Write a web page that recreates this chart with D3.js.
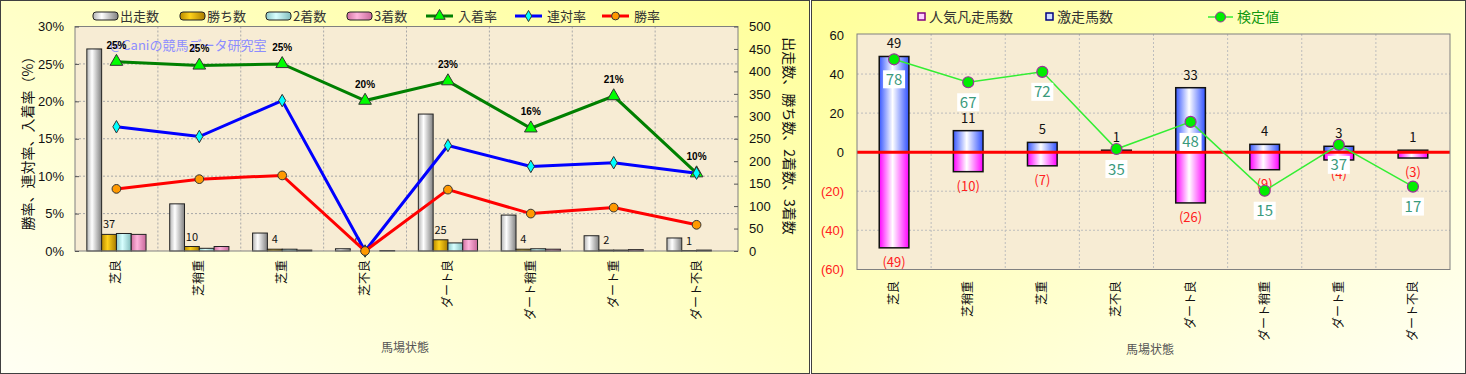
<!DOCTYPE html>
<html>
<head>
<meta charset="utf-8">
<script src="https://cdn.jsdelivr.net/npm/d3@7"></script>
<style>
  body { margin: 0; background: #fff; }
  svg { display: block; font-family: "Noto Sans CJK JP", sans-serif; }
</style>
</head>
<body>
<svg id="chart" width="1466" height="374"></svg>
<script>
// Data
const conditions = ["芝良", "芝稍重", "芝重", "芝不良", "ダート良", "ダート稍重", "ダート重", "ダート不良"];

// left chart (counts, right axis)
const runs = [450, 105, 40, 5, 305, 80, 34, 29];
const wins = [37, 10, 4, 0, 25, 4, 2, 1];
const seconds = [39, 6, 4, 0, 18, 5, 2, 2];
const thirds = [37, 10, 2, 1, 26, 4, 3, 0];
// left chart (rates %, left axis)
const placeRate = [25.3, 24.8, 25.0, 20.1, 22.7, 16.4, 20.7, 10.4];
const quinellaRate = [16.6, 15.3, 20.1, 0, 14.1, 11.3, 11.8, 10.4];
const winRate = [8.3, 9.6, 10.1, 0, 8.2, 5.0, 5.8, 3.5];
const placeLabels = ["25%", "25%", "25%", "20%", "23%", "16%", "21%", "10%"];

// right chart
const upsetCounts = [49, 11, 5, 1, 33, 4, 3, 1];   // 激走馬数
const flopCounts = [49, 10, 7, 0, 26, 9, 4, 3];    // 人気凡走馬数
const testValues = [78, 67, 72, 35, 48, 15, 37, 17]; // 検定値

const svg = d3.select("#chart");
const defs = svg.append("defs");

function hGradient(id, edgeL, mid, edgeR, midAt) {
  const g = defs.append("linearGradient").attr("id", id)
    .attr("x1", 0).attr("y1", 0).attr("x2", 1).attr("y2", 0);
  g.append("stop").attr("offset", 0).attr("stop-color", edgeL);
  g.append("stop").attr("offset", midAt || 0.4).attr("stop-color", mid);
  g.append("stop").attr("offset", 1).attr("stop-color", edgeR);
}
hGradient("g-runs", "#b4b4b4", "#ffffff", "#808080", 0.35);
hGradient("g-wins", "#b88a00", "#ffd21a", "#a87c00");
hGradient("g-second", "#8cc8c8", "#d8ffff", "#80bcbc");
hGradient("g-third", "#d070a0", "#ffb4dc", "#c8689a");
hGradient("g-blue", "#3858ff", "#ffffff", "#3050ff", 0.45);
hGradient("g-pink", "#ff00ff", "#ffffff", "#ff00ff", 0.45);

const bgL = defs.append("linearGradient").attr("id", "bg-left")
  .attr("x1", 0).attr("y1", 1).attr("x2", 1).attr("y2", 0);
bgL.append("stop").attr("offset", 0).attr("stop-color", "#fffff4");
bgL.append("stop").attr("offset", 1).attr("stop-color", "#ffff99");
const bgR = defs.append("linearGradient").attr("id", "bg-right")
  .attr("x1", 0).attr("y1", 0).attr("x2", 1).attr("y2", 1);
bgR.append("stop").attr("offset", 0).attr("stop-color", "#ffff99");
bgR.append("stop").attr("offset", 1).attr("stop-color", "#fffff4");

// Panels
svg.append("rect").attr("x", 0.5).attr("y", 0.5).attr("width", 809).attr("height", 373)
  .attr("fill", "url(#bg-left)").attr("stroke", "#404040");
svg.append("rect").attr("x", 811.5).attr("y", 0.5).attr("width", 654).attr("height", 373)
  .attr("fill", "url(#bg-right)").attr("stroke", "#404040");

// ---------- Left chart ----------
const L = { left: 75, right: 738, top: 26.5, bottom: 251 };
const xL = d3.scaleBand().domain(conditions).range([L.left, L.right]);
const xSub = d3.scaleBand().domain(["runs", "wins", "seconds", "thirds"])
  .range([0, xL.bandwidth()]).paddingOuter(0.8);
const yPct = d3.scaleLinear().domain([0, 30]).range([L.bottom, L.top]);
const yCnt = d3.scaleLinear().domain([0, 500]).range([L.bottom, L.top]);

const gl = svg.append("g");
gl.append("rect").attr("x", L.left).attr("y", L.top)
  .attr("width", L.right - L.left).attr("height", L.bottom - L.top)
  .attr("fill", "#f7ecd4");

// grid
gl.selectAll(".hgrid").data(yPct.ticks(6).filter((d) => d > 0 && d < 30)).join("line")
  .attr("x1", L.left).attr("x2", L.right)
  .attr("y1", (d) => yPct(d)).attr("y2", (d) => yPct(d))
  .attr("stroke", "#a8a8a8").attr("stroke-dasharray", "2,2");
gl.selectAll(".vgrid").data(conditions.slice(1)).join("line")
  .attr("x1", (d) => xL(d)).attr("x2", (d) => xL(d))
  .attr("y1", L.top).attr("y2", L.bottom)
  .attr("stroke", "#a8a8a8").attr("stroke-dasharray", "2,2");

// bars
const barSeries = [
  { key: "runs", values: runs, fill: "url(#g-runs)" },
  { key: "wins", values: wins, fill: "url(#g-wins)" },
  { key: "seconds", values: seconds, fill: "url(#g-second)" },
  { key: "thirds", values: thirds, fill: "url(#g-third)" },
];
barSeries.forEach((s) => {
  gl.append("g").selectAll("rect").data(s.values).join("rect")
    .attr("x", (d, i) => xL(conditions[i]) + xSub(s.key))
    .attr("y", (d) => yCnt(d))
    .attr("width", xSub.bandwidth())
    .attr("height", (d) => L.bottom - yCnt(d))
    .attr("fill", s.fill)
    .attr("stroke", "#222").attr("stroke-width", 1);
});
// win count labels
gl.append("g").selectAll("text").data(wins).join("text")
  .attr("x", (d, i) => xL(conditions[i]) + xSub("wins") + xSub.bandwidth() / 2)
  .attr("y", (d) => yCnt(d) - 6)
  .attr("text-anchor", "middle").attr("font-size", 11).attr("fill", "#111")
  .text((d) => d);

// plot border
gl.append("rect").attr("x", L.left).attr("y", L.top)
  .attr("width", L.right - L.left).attr("height", L.bottom - L.top)
  .attr("fill", "none").attr("stroke", "#808080");

// watermark
gl.append("text").attr("x", 110).attr("y", 50)
  .attr("font-size", 13).attr("fill", "#8c8cff")
  .text("@Caniの競馬データ研究室");

// lines
const cx = (i) => xL(conditions[i]) + xL.bandwidth() / 2;
const lineSeries = [
  { name: "入着率", values: placeRate, color: "#008000", marker: d3.symbolTriangle, size: 70, mfill: "#00ff00" },
  { name: "連対率", values: quinellaRate, color: "#0000ff", marker: d3.symbolDiamond, size: 45, mfill: "#00ffff" },
  { name: "勝率", values: winRate, color: "#ff0000", marker: d3.symbolCircle, size: 60, mfill: "#ff9900" },
];
const lineL = d3.line().x((d, i) => cx(i)).y((d) => yPct(d));
lineSeries.forEach((s) => {
  gl.append("path").datum(s.values)
    .attr("d", lineL).attr("fill", "none")
    .attr("stroke", s.color).attr("stroke-width", 3);
});
lineSeries.forEach((s) => {
  gl.append("g").selectAll("path").data(s.values).join("path")
    .attr("transform", (d, i) => `translate(${cx(i)},${yPct(d)})`)
    .attr("d", d3.symbol().type(s.marker).size(s.size))
    .attr("fill", s.mfill).attr("stroke", "#333").attr("stroke-width", 1);
});
gl.append("g").selectAll("text").data(placeRate).join("text")
  .attr("x", (d, i) => cx(i))
  .attr("y", (d) => yPct(d) - 13)
  .attr("text-anchor", "middle").attr("font-size", 10).attr("font-weight", "bold")
  .attr("font-family", "Liberation Sans, Arial, sans-serif")
  .text((d, i) => placeLabels[i]);

// axes
const axL = gl.append("g").attr("transform", `translate(${L.left},0)`)
  .call(d3.axisLeft(yPct).ticks(6).tickFormat((d) => d + "%").tickSize(-4).tickPadding(11));
const axR = gl.append("g").attr("transform", `translate(${L.right},0)`)
  .call(d3.axisRight(yCnt).ticks(10).tickSize(-4).tickPadding(11));
[axL, axR].forEach((a) => {
  a.select(".domain").remove();
  a.selectAll("line").attr("stroke", "#555");
  a.selectAll("text").attr("font-size", 13).attr("fill", "#111")
    .attr("font-family", "Liberation Sans, Arial, sans-serif");
});

// x labels (vertical)
gl.append("g").selectAll("text").data(conditions).join("text")
  .attr("transform", (d) => `translate(${xL(d) + xL.bandwidth() / 2 + 4},260) rotate(-90)`)
  .attr("text-anchor", "end").attr("font-size", 12).attr("fill", "#111")
  .text((d) => d);
gl.append("text").attr("x", 405).attr("y", 352).attr("text-anchor", "middle")
  .attr("font-size", 12).attr("fill", "#555").text("馬場状態");

// axis titles
gl.append("text").attr("transform", "translate(33,140) rotate(-90)")
  .attr("text-anchor", "middle").attr("font-size", 14).attr("fill", "#111")
  .text("勝率、連対率、入着率（%）");
gl.append("text").attr("transform", "translate(784,136) rotate(90)")
  .attr("text-anchor", "middle").attr("font-size", 14).attr("fill", "#111")
  .text("出走数、勝ち数、2着数、3着数");

// left legend
const legL = gl.append("g").attr("font-size", 13).attr("fill", "#333");
[
  { x: 93, label: "出走数", fill: "url(#g-runs)" },
  { x: 180, label: "勝ち数", fill: "url(#g-wins)" },
  { x: 266, label: "2着数", fill: "url(#g-second)" },
  { x: 347, label: "3着数", fill: "url(#g-third)" },
].forEach((d) => {
  legL.append("rect").attr("x", d.x).attr("y", 12).attr("width", 25).attr("height", 8)
    .attr("rx", 3).attr("fill", d.fill).attr("stroke", "#222");
  legL.append("text").attr("x", d.x + 27).attr("y", 21).text(d.label);
});
[426, 515, 602].forEach((x, k) => {
  const s = lineSeries[k];
  legL.append("line").attr("x1", x).attr("x2", x + 27).attr("y1", 16).attr("y2", 16)
    .attr("stroke", s.color).attr("stroke-width", 3);
  legL.append("path").attr("transform", `translate(${x + 13.5},16)`)
    .attr("d", d3.symbol().type(s.marker).size(s.size * 0.8))
    .attr("fill", s.mfill).attr("stroke", "#333");
  legL.append("text").attr("x", x + 32).attr("y", 21).text(s.name);
});

// ---------- Right chart ----------
const R = { left: 857, right: 1450, top: 34, bottom: 269.5 };
const xR = d3.scaleBand().domain(conditions).range([R.left, R.right]);
const yR = d3.scaleLinear().domain([-60, 60]).range([269.3, 35]);
const yTest = d3.scaleLinear().domain([-22.65, 89.65]).range([269.3, 35]);
const barW = xR.bandwidth() * 0.4;
const rcx = (i) => xR(conditions[i]) + xR.bandwidth() / 2;

const gr = svg.append("g");
gr.append("rect").attr("x", R.left).attr("y", R.top)
  .attr("width", R.right - R.left).attr("height", R.bottom - R.top)
  .attr("fill", "#f7ecd4");
gr.selectAll(".hgrid").data(yR.ticks(6).filter((d) => d !== 0 && d > -60 && d < 60)).join("line")
  .attr("x1", R.left).attr("x2", R.right)
  .attr("y1", (d) => yR(d)).attr("y2", (d) => yR(d))
  .attr("stroke", "#bdbdbd").attr("stroke-dasharray", "2,2");
gr.selectAll(".vgrid").data(conditions.slice(1)).join("line")
  .attr("x1", (d) => xR(d)).attr("x2", (d) => xR(d))
  .attr("y1", R.top).attr("y2", R.bottom)
  .attr("stroke", "#bdbdbd").attr("stroke-dasharray", "2,2");

// bars
gr.append("g").selectAll("rect").data(flopCounts).join("rect")
  .attr("x", (d, i) => rcx(i) - barW / 2)
  .attr("y", yR(0))
  .attr("width", barW)
  .attr("height", (d) => yR(-d) - yR(0))
  .attr("fill", "url(#g-pink)").attr("stroke", "#111").attr("stroke-width", 1.5);
gr.append("g").selectAll("rect").data(upsetCounts).join("rect")
  .attr("x", (d, i) => rcx(i) - barW / 2)
  .attr("y", (d) => yR(d))
  .attr("width", barW)
  .attr("height", (d) => yR(0) - yR(d))
  .attr("fill", "url(#g-blue)").attr("stroke", "#111").attr("stroke-width", 1.5);

// bar labels
gr.append("g").selectAll("text").data(upsetCounts).join("text")
  .attr("x", (d, i) => rcx(i)).attr("y", (d) => yR(d) - 8)
  .attr("text-anchor", "middle").attr("font-size", 13).attr("fill", "#111")
  .text((d) => d);
gr.append("g").selectAll("text").data(flopCounts).join("text")
  .attr("x", (d, i) => rcx(i)).attr("y", (d) => yR(-d) + 19)
  .attr("text-anchor", "middle").attr("font-size", 13).attr("fill", "#ff2020")
  .text((d) => (d > 0 ? `(${d})` : ""));

// zero line
gr.append("line").attr("x1", R.left).attr("x2", R.right)
  .attr("y1", yR(0)).attr("y2", yR(0))
  .attr("stroke", "#ff0000").attr("stroke-width", 3);

// test value line
gr.append("path").datum(testValues)
  .attr("d", d3.line().x((d, i) => rcx(i)).y((d) => yTest(d)))
  .attr("fill", "none").attr("stroke", "#33ee33").attr("stroke-width", 1.5);
const tl = gr.append("g").selectAll("g").data(testValues).join("g")
  .attr("transform", (d, i) => `translate(${rcx(i)},${yTest(d) + 20})`);
tl.append("rect").attr("x", -11).attr("y", -9).attr("width", 22).attr("height", 18)
  .attr("fill", "#ffffff");
tl.append("text").attr("y", 5.5).attr("text-anchor", "middle")
  .attr("font-size", 15).attr("fill", "#3a9a7c").text((d) => d);
gr.append("g").selectAll("circle").data(testValues).join("circle")
  .attr("cx", (d, i) => rcx(i)).attr("cy", (d) => yTest(d)).attr("r", 5.5)
  .attr("fill", "#00ee00").attr("stroke", "#993399").attr("stroke-width", 1.2);

// plot border
gr.append("rect").attr("x", R.left).attr("y", R.top)
  .attr("width", R.right - R.left).attr("height", R.bottom - R.top)
  .attr("fill", "none").attr("stroke", "#808080");

// y axis
const axRR = gr.append("g").attr("transform", `translate(${R.left},0)`)
  .call(d3.axisLeft(yR).ticks(6).tickSize(0).tickPadding(13)
    .tickFormat((d) => (d < 0 ? `(${-d})` : d)));
axRR.select(".domain").remove();
axRR.selectAll("text").attr("font-size", 13)
  .attr("font-family", "Liberation Sans, Arial, sans-serif")
  .attr("fill", (d) => (d < 0 ? "#ff2020" : "#111"));

// x labels
gr.append("g").selectAll("text").data(conditions).join("text")
  .attr("transform", (d) => `translate(${xR(d) + xR.bandwidth() / 2 + 4},281) rotate(-90)`)
  .attr("text-anchor", "end").attr("font-size", 12).attr("fill", "#111")
  .text((d) => d);
gr.append("text").attr("x", 1150).attr("y", 354).attr("text-anchor", "middle")
  .attr("font-size", 12).attr("fill", "#555").text("馬場状態");

// right legend
const legR = gr.append("g").attr("font-size", 14);
legR.append("rect").attr("x", 918).attr("y", 13).attr("width", 7).attr("height", 7)
  .attr("fill", "#ffd0ff").attr("stroke", "#800080").attr("stroke-width", 1.5);
legR.append("text").attr("x", 929).attr("y", 22).attr("fill", "#333").text("人気凡走馬数");
legR.append("rect").attr("x", 1046).attr("y", 13).attr("width", 7).attr("height", 7)
  .attr("fill", "#d0dcff").attr("stroke", "#000080").attr("stroke-width", 1.5);
legR.append("text").attr("x", 1057).attr("y", 22).attr("fill", "#333").text("激走馬数");
legR.append("line").attr("x1", 1208).attr("x2", 1233).attr("y1", 17).attr("y2", 17)
  .attr("stroke", "#33ee33").attr("stroke-width", 1.5);
legR.append("circle").attr("cx", 1220.5).attr("cy", 17).attr("r", 5)
  .attr("fill", "#00ee00").attr("stroke", "#993399");
legR.append("text").attr("x", 1237).attr("y", 22).attr("fill", "#119911").text("検定値");
</script>
</body>
</html>
